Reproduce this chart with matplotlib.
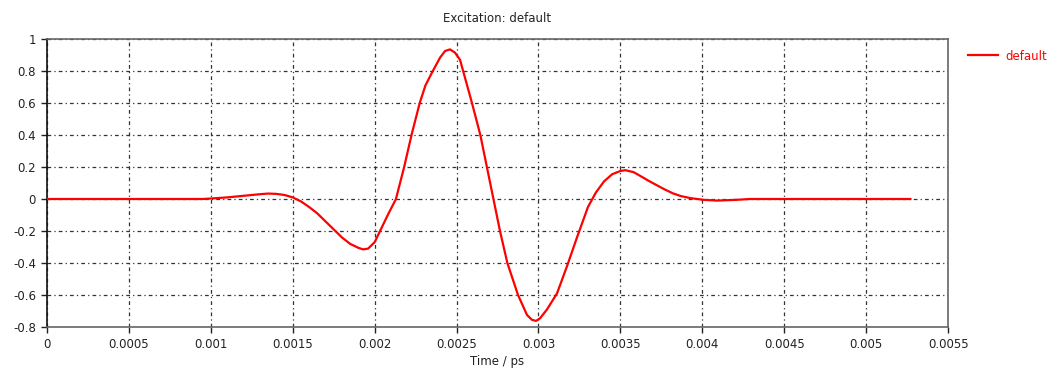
import matplotlib

matplotlib.use("Agg")
import matplotlib.pyplot as plt

# excitation signal
time_ps = [
    0.0, 0.0005, 0.00095, 0.001, 0.0011, 0.0012, 0.0013, 0.00135, 0.0014, 0.00145,
    0.0015, 0.00155, 0.0016, 0.00165, 0.0017, 0.00175, 0.0018, 0.00185, 0.0019,
    0.00193, 0.00196, 0.002, 0.002033, 0.00208, 0.00213, 0.00218, 0.002225,
    0.002275, 0.00231, 0.002355, 0.0024, 0.00243, 0.00246, 0.00249,
    0.002521, 0.00254, 0.002594, 0.002645, 0.002685, 0.002725, 0.002765,
    0.00281, 0.002875, 0.00293, 0.00296, 0.002985, 0.00301, 0.003052, 0.003113,
    0.003174, 0.003235, 0.003302, 0.00335, 0.0034, 0.00345, 0.0035, 0.00353,
    0.00358, 0.00362, 0.00367, 0.003724, 0.00377, 0.003821, 0.00387, 0.003925,
    0.004005, 0.00409, 0.004212, 0.00429, 0.0045, 0.005, 0.00527,
]
amplitude = [
    0.0, 0.0, 0.0, 0.003, 0.01, 0.02, 0.03, 0.034, 0.032, 0.025,
    0.01, -0.015, -0.05, -0.09, -0.14, -0.19, -0.24, -0.28, -0.305,
    -0.315, -0.31, -0.27, -0.2, -0.1, 0.0, 0.2, 0.4,
    0.6, 0.71, 0.8, 0.885, 0.925, 0.935, 0.915,
    0.87, 0.8, 0.6, 0.4, 0.2, 0.0, -0.2,
    -0.4, -0.6, -0.725, -0.755, -0.762, -0.745, -0.69, -0.59,
    -0.42, -0.24, -0.05, 0.04, 0.11, 0.155, 0.175, 0.18,
    0.168, 0.145, 0.115, 0.085, 0.06, 0.035, 0.018, 0.006,
    -0.005, -0.01, -0.005, 0.0, 0.0, 0.0, 0.0,
]
series_label = "default"
x_ticks = [0, 0.0005, 0.001, 0.0015, 0.002, 0.0025, 0.003, 0.0035, 0.004, 0.0045, 0.005, 0.0055]
x_tick_labels = ["0", "0.0005", "0.001", "0.0015", "0.002", "0.0025", "0.003",
                 "0.0035", "0.004", "0.0045", "0.005", "0.0055"]
y_ticks = [-0.8, -0.6, -0.4, -0.2, 0, 0.2, 0.4, 0.6, 0.8, 1]
y_tick_labels = ["-0.8", "-0.6", "-0.4", "-0.2", "0", "0.2", "0.4", "0.6", "0.8", "1"]

plt.rcParams["font.family"] = ["DejaVu Sans"]

fig = plt.figure(figsize=(10.56, 3.76), dpi=100)
ax = fig.add_axes([0.0445, 0.1303, 0.8533, 0.766])

ax.plot(time_ps, amplitude, color="#ff0000", linewidth=1.6, label=series_label,
        zorder=3, solid_joinstyle="round")

ax.set_xlim(0, 0.0055)
ax.set_ylim(-0.8, 1)
ax.set_xticks(x_ticks)
ax.set_xticklabels(x_tick_labels)
ax.set_yticks(y_ticks)
ax.set_yticklabels(y_tick_labels)
ax.tick_params(axis="both", labelsize=8.5, length=4, width=1, direction="out",
               colors="#222222", pad=4)

ax.grid(True, color="#333333", linestyle=(0, (3, 2.5, 1, 2.5)), linewidth=0.9)

for side in ("top", "right", "bottom"):
    ax.spines[side].set_color("#666666")
    ax.spines[side].set_linewidth(1.2)
ax.spines["left"].set_color("#111111")
ax.spines["left"].set_linewidth(1.2)

ax.set_title("Excitation: default", fontsize=8.5, color="#222222", pad=12)
ax.set_xlabel("Time / ps", fontsize=8.5, color="#222222", labelpad=3)

leg = ax.legend(loc="upper left", bbox_to_anchor=(1.01, 1.0), frameon=False,
                fontsize=8.5, handlelength=2.6, handletextpad=0.6)
for txt in leg.get_texts():
    txt.set_color("#ff0000")

fig.savefig("out.png", dpi=100)
